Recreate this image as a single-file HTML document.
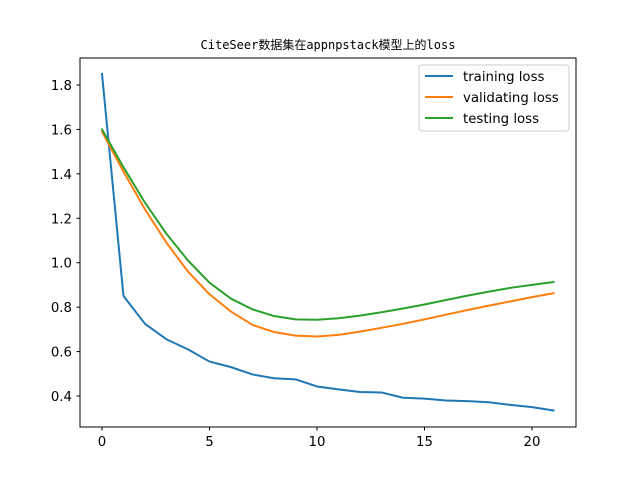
<!DOCTYPE html>
<html><head><meta charset="utf-8"><style>
body{margin:0;background:#fff}
svg text{font-family:"DejaVu Sans","Liberation Sans",sans-serif;font-size:13.3px;fill:#000}
</style></head><body>
<svg width="640" height="480" id="c">
<rect width="640" height="480" fill="#fff"/>
<text x="328" y="49" text-anchor="middle" style="font-family:'DejaVu Sans Mono','Liberation Mono','Noto Sans CJK SC',monospace;font-size:12px">CiteSeer数据集在appnpstack模型上的loss</text>
<g id="plot"></g>
<rect x="80" y="58" width="496" height="369" fill="none" stroke="#000" stroke-width="1"/>
<g>
<rect x="419" y="65" width="150" height="66" rx="3" fill="#fff" fill-opacity="0.8" stroke="#ccc"/>
<line x1="425" y1="76" x2="453" y2="76" stroke="#1f77b4" stroke-width="2"/><text x="463" y="81">training loss</text>
<line x1="425" y1="97" x2="453" y2="97" stroke="#ff7f0e" stroke-width="2"/><text x="463" y="102">validating loss</text>
<line x1="425" y1="118" x2="453" y2="118" stroke="#2ca02c" stroke-width="2"/><text x="463" y="123">testing loss</text>
</g>
</svg>
<script>
const epochs=[0,1,2,3,4,5,6,7,8,9,10,11,12,13,14,15,16,17,18,19,20,21];
const training=[1.85,0.85,0.725,0.655,0.61,0.555,0.53,0.497,0.48,0.475,0.443,0.43,0.418,0.416,0.392,0.388,0.38,0.377,0.372,0.36,0.35,0.335];
const validating=[1.59,1.41,1.24,1.09,0.96,0.858,0.78,0.72,0.688,0.672,0.668,0.675,0.69,0.707,0.725,0.745,0.766,0.787,0.807,0.826,0.845,0.863];
const testing=[1.60,1.43,1.27,1.13,1.01,0.91,0.838,0.79,0.76,0.745,0.743,0.75,0.762,0.777,0.794,0.812,0.832,0.852,0.87,0.887,0.9,0.913];
const xTicks=[0,5,10,15,20];
const yTicks=[0.4,0.6,0.8,1.0,1.2,1.4,1.6,1.8];
const X=v=>102+v*21.5;
const Y=v=>396-(v-0.4)*(311/1.4);
const ns="http://www.w3.org/2000/svg";
const g=document.getElementById('plot');
function mk(t,a){const e=document.createElementNS(ns,t);for(const k in a)e.setAttribute(k,a[k]);g.appendChild(e);return e;}
xTicks.forEach(v=>{
 const l=mk('line',{x1:X(v),x2:X(v),y1:427,y2:430.5,stroke:'#000'});
 
 
 const t=mk('text',{x:X(v),y:446,'text-anchor':'middle'});t.textContent=v;
 
 
});
yTicks.forEach(v=>{
 const l=mk('line',{x1:76.5,x2:80,y1:Y(v),y2:Y(v),stroke:'#000'});
 
 
 const t=mk('text',{x:72,y:Y(v)+5,'text-anchor':'end'});t.textContent=v.toFixed(1);
 
 
});
[[training,'#1f77b4','training-loss-line'],[validating,'#ff7f0e','validating-loss-line'],[testing,'#2ca02c','testing-loss-line']].forEach(([d,c,n])=>{
 const p=mk('polyline',{points:d.map((v,i)=>X(epochs[i])+','+Y(v)).join(' '),fill:'none',stroke:c,'stroke-width':2,'stroke-linejoin':'round','stroke-linecap':'square'});
 
 
});
</script>
</body></html>
